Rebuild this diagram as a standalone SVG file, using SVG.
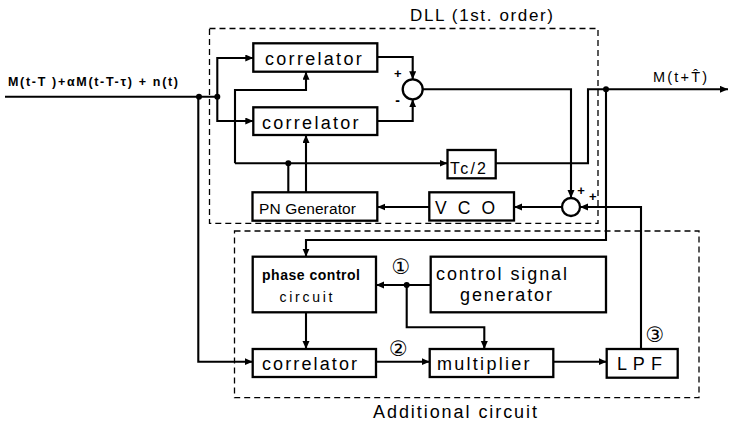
<svg xmlns="http://www.w3.org/2000/svg" width="729" height="421" viewBox="0 0 729 421">
<style>
.bg{fill:#fff}
.box{fill:#fff;stroke:#000;stroke-width:2.3}
.dash{fill:none;stroke:#000;stroke-width:1.3;stroke-dasharray:6,4}
.w{fill:none;stroke:#000;stroke-width:2.1}
.dot{fill:#000}
.t{font-family:"Liberation Sans",Arial,sans-serif;fill:#000}
.n{font-family:"DejaVu Sans",sans-serif;fill:#000;text-anchor:middle}
.s{font-family:"Liberation Sans",Arial,sans-serif;fill:#000;text-anchor:middle;font-weight:bold}
</style>
<defs>
<marker id="a" markerUnits="userSpaceOnUse" markerWidth="9" markerHeight="8" refX="8" refY="3.5" orient="auto">
<path d="M0,0 L8,3.5 L0,7 z" fill="#000"/>
</marker>
</defs>
<rect class="bg" x="0" y="0" width="729" height="421"/>

<g id="dll-boundary">
<rect class="dash" x="209.5" y="28.5" width="388.5" height="194.8"/>
<text class="t" x="410" y="21" font-size="17" textLength="143" lengthAdjust="spacing">DLL (1st. order)</text>
</g>
<g id="additional-boundary">
<rect class="dash" x="234.5" y="231" width="464.5" height="166.7"/>
<text class="t" x="373" y="418" font-size="18" textLength="164" lengthAdjust="spacing">Additional circuit</text>
</g>

<g id="connectors">
<polyline class="w" points="5,96.7 217.3,96.7"/>
<polyline class="w" points="217.3,96.7 217.3,58 253.3,58" marker-end="url(#a)"/>
<polyline class="w" points="217.3,96.7 217.3,121 253.3,121" marker-end="url(#a)"/>
<polyline class="w" points="377.3,57 412.7,57 412.7,79.3" marker-end="url(#a)"/>
<polyline class="w" points="377.3,121 412.7,121 412.7,99.3" marker-end="url(#a)"/>
<polyline class="w" points="422.7,89.3 571,89.3 571,198" marker-end="url(#a)"/>
<polyline class="w" points="288.3,192.3 288.3,163.3"/>
<polyline class="w" points="235,163.3 447.5,163.3" marker-end="url(#a)"/>
<polyline class="w" points="235,163.3 235,90 306,90 306,71.7" marker-end="url(#a)"/>
<polyline class="w" points="306,192.3 306,135" marker-end="url(#a)"/>
<polyline class="w" points="495.7,163.3 588,163.3 588,89.3 728,89.3" marker-end="url(#a)"/>
<polyline class="w" points="606,89.3 606,240 306,240 306,256.7" marker-end="url(#a)"/>
<polyline class="w" points="562,207 514,207" marker-end="url(#a)"/>
<polyline class="w" points="429.3,207 377.3,207" marker-end="url(#a)"/>
<polyline class="w" points="641,349 641,207 580,207" marker-end="url(#a)"/>
<polyline class="w" points="198.3,96.7 198.3,361.7 252.7,361.7" marker-end="url(#a)"/>
<polyline class="w" points="430.7,285 376,285" marker-end="url(#a)"/>
<polyline class="w" points="406.7,285 406.7,327.3 484.3,327.3 484.3,349" marker-end="url(#a)"/>
<polyline class="w" points="306,312.3 306,349" marker-end="url(#a)"/>
<polyline class="w" points="376,361.7 429.7,361.7" marker-end="url(#a)"/>
<polyline class="w" points="553.3,361.7 606.7,361.7" marker-end="url(#a)"/>
<circle class="dot" cx="199" cy="96.7" r="3"/>
<circle class="dot" cx="217.3" cy="96.7" r="3"/>
<circle class="dot" cx="288.3" cy="163.3" r="3"/>
<circle class="dot" cx="606" cy="89.3" r="3"/>
<circle class="dot" cx="406.7" cy="285" r="3"/>
<text class="t" x="8" y="86" font-size="12.5" font-weight="bold" textLength="170" lengthAdjust="spacing">M(t-T )+αM(t-T-τ) + n(t)</text>
<text class="t" x="653" y="82" font-size="14.5" textLength="54" lengthAdjust="spacing">M(t+T̂)</text>
<text class="n" x="401" y="274" font-size="21">①</text>
<text class="n" x="398.5" y="355.5" font-size="21">②</text>
<text class="n" x="655" y="342" font-size="21">③</text>
</g>

<g id="correlator1">
<rect class="box" x="253.3" y="43.3" width="124" height="28.4"/>
<text class="t" x="265" y="65" font-size="18" textLength="96.7" lengthAdjust="spacing">correlator</text>
</g>
<g id="correlator2">
<rect class="box" x="253.3" y="107.3" width="124" height="27.7"/>
<text class="t" x="262" y="129" font-size="18" textLength="96.5" lengthAdjust="spacing">correlator</text>
</g>
<g id="sum1">
<circle class="box" cx="412.7" cy="89.3" r="10"/>
<text class="s" x="397.7" y="78" font-size="13">+</text>
<text class="s" x="397.5" y="104.5" font-size="14">-</text>
</g>
<g id="tc2">
<rect class="box" x="447.5" y="150" width="48.2" height="28.3"/>
<text class="t" x="450" y="174.3" font-size="16" textLength="36" lengthAdjust="spacing">Tc/2</text>
</g>
<g id="pn-generator">
<rect class="box" x="252.5" y="192.3" width="124.8" height="28.4"/>
<text class="t" x="259" y="213.5" font-size="15.5" textLength="97" lengthAdjust="spacing">PN Generator</text>
</g>
<g id="vco">
<rect class="box" x="429.3" y="192.3" width="84.7" height="28.2"/>
<text class="t" x="435" y="214" font-size="17.5" textLength="60" lengthAdjust="spacing">V C O</text>
</g>
<g id="sum2">
<circle class="box" cx="571" cy="207" r="9"/>
<text class="s" x="581" y="195" font-size="13">+</text>
<text class="s" x="592.7" y="200.5" font-size="13">+</text>
</g>
<g id="phase-control">
<rect class="box" x="252.7" y="256.7" width="123.3" height="55.6"/>
<text class="t" x="262" y="280" font-size="14" font-weight="bold" textLength="98" lengthAdjust="spacing">phase control</text>
<text class="t" x="279.5" y="301.5" font-size="14" textLength="53" lengthAdjust="spacing">circuit</text>
</g>
<g id="control-signal-generator">
<rect class="box" x="430.7" y="256.7" width="175.3" height="55.6"/>
<text class="t" x="436" y="280" font-size="18" textLength="131" lengthAdjust="spacing">control  signal</text>
<text class="t" x="460" y="301" font-size="18" textLength="92" lengthAdjust="spacing">generator</text>
</g>
<g id="correlator3">
<rect class="box" x="252.7" y="349" width="123.3" height="28"/>
<text class="t" x="262" y="369.5" font-size="18" textLength="95" lengthAdjust="spacing">correlator</text>
</g>
<g id="multiplier">
<rect class="box" x="429.7" y="349" width="123.6" height="28"/>
<text class="t" x="437" y="369.5" font-size="18" textLength="92.5" lengthAdjust="spacing">multiplier</text>
</g>
<g id="lpf">
<rect class="box" x="606.7" y="349" width="71" height="28.7"/>
<text class="t" x="617" y="370" font-size="18" textLength="45" lengthAdjust="spacing">L P F</text>
</g>
</svg>
